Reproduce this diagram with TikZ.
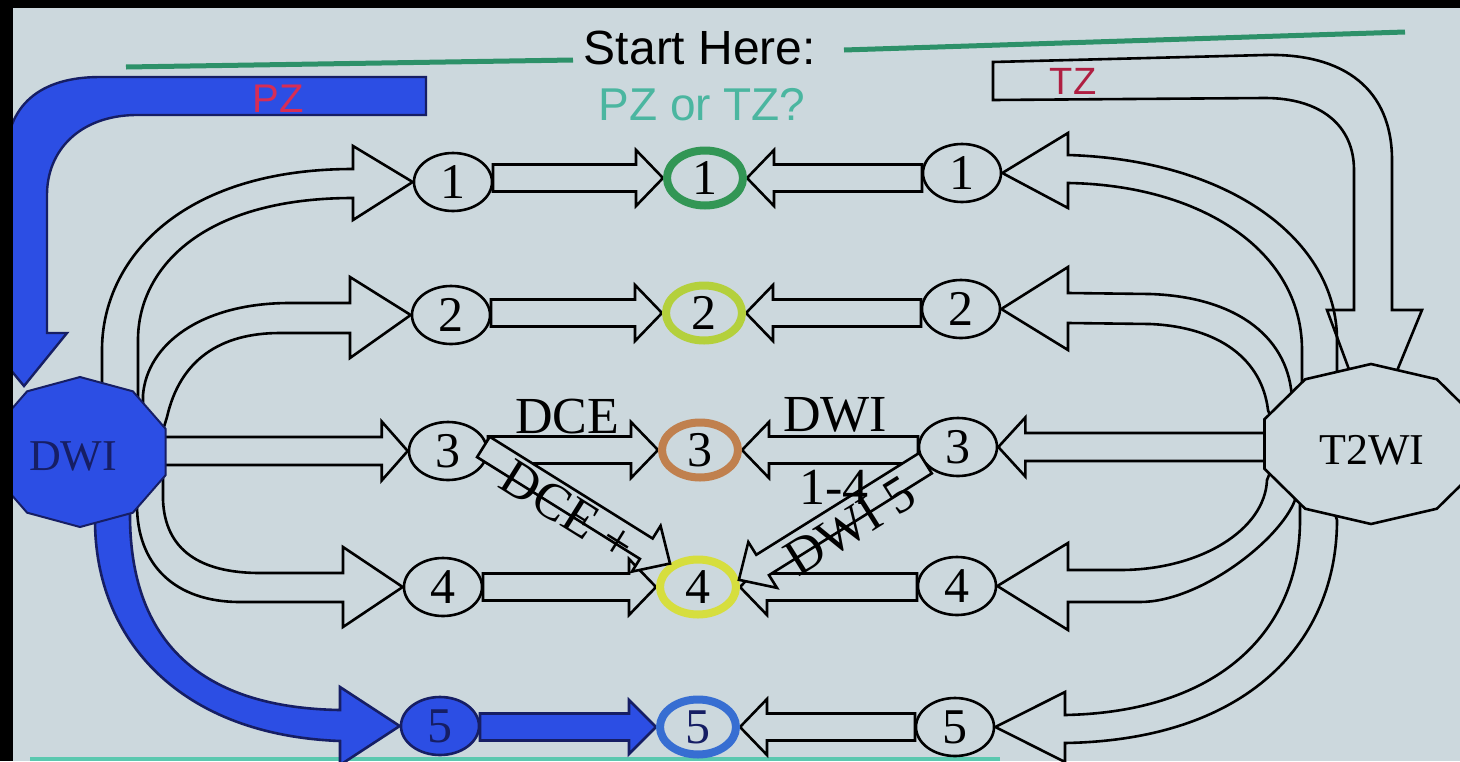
\documentclass[tikz,border=0pt]{standalone}
\usepackage{fontspec}
\setmainfont{Liberation Serif}
\newfontfamily\arialf{Liberation Sans}
\usetikzlibrary{shapes.geometric,calc}
\pgfdeclarelayer{bgl}\pgfdeclarelayer{arrl}\pgfdeclarelayer{front}
\pgfsetlayers{bgl,arrl,main,front}
\definecolor{bg}{RGB}{204,216,221}
\definecolor{dwiblue}{RGB}{44,78,228}
\definecolor{navy}{RGB}{22,30,100}
\definecolor{ringG}{RGB}{50,150,85}
\definecolor{ringYG}{RGB}{180,208,60}
\definecolor{ringBr}{RGB}{192,128,78}
\definecolor{ringY}{RGB}{214,222,62}
\definecolor{ringB}{RGB}{55,110,210}
\definecolor{lineG}{RGB}{45,145,105}
\definecolor{qteal}{RGB}{75,182,160}
\definecolor{pzred}{RGB}{215,45,85}
\definecolor{tzred}{RGB}{175,30,65}
\definecolor{botline}{RGB}{90,200,175}
\newcommand\dgfont{\fontsize{50}{56}\selectfont}
\newcommand\lbfont{\fontsize{52}{58}\selectfont}
\begin{document}
\begin{tikzpicture}[x=1pt,y=-1pt,
  ol/.style={draw=black,line width=2.6pt,line join=miter},
  bstyle/.style={draw=black,line width=2.6pt,fill=bg,line join=miter},
  circ/.style={ellipse,draw=black,line width=2.6pt,fill=bg,minimum width=78pt,minimum height=58pt,inner sep=0pt,outer sep=1.3pt,font=\dgfont},
  ring/.style={ellipse,draw=#1,line width=8pt,fill=bg,minimum width=76pt,minimum height=55pt,inner sep=0pt,outer sep=4pt,font=\dgfont},
  pics/barrow/.style n args={4}{code={\filldraw[bstyle] (-#1,-#4) -- (-#2,-#4) -- (-#2,-#3) -- (0,0) -- (-#2,#3) -- (-#2,#4) -- (-#1,#4) -- cycle;}}
]
\useasboundingbox (0,0) rectangle (1460,761);
\begin{pgfonlayer}{bgl}
  \fill[bg] (0,0) rectangle (1460,761);
  \draw[lineG,line width=5pt] (126,67) -- (573,60);
  \draw[lineG,line width=5pt] (844,50) -- (1405,32);
  \draw[botline,line width=4pt] (30,759) -- (1000,759);
\end{pgfonlayer}

% ---------- nodes (main layer)
\filldraw[fill=dwiblue,draw=navy,line width=2pt] plot[variable=\t,samples at={90,126,...,414}] ({80+90*cos(\t)},{452-75*sin(\t)}) -- cycle;
\node[text=navy,font=\fontsize{44}{50}\selectfont] (dwi) at (73,456) {DWI};
\filldraw[fill=bg,draw=black,line width=2.6pt] plot[variable=\t,samples at={90,126,...,414}] ({1371+112*cos(\t)},{444-80*sin(\t)}) -- cycle;
\node[font=\fontsize{44}{50}\selectfont] (t2wi) at (1372,450) {T2WI};

\node[circ] (L1) at (453,182) {1};
\node[circ] (L2) at (451,315) {2};
\node[circ] (L3) at (448,451) {3};
\node[circ] (L4) at (443,587) {4};
\node[circ,fill=dwiblue,draw=navy,text=navy] (L5) at (440,726) {5};

\node[ring=ringG] (M1) at (705,178) {1};
\node[ring=ringYG] (M2) at (704,313) {2};
\node[ring=ringBr] (M3) at (700,450) {3};
\node[ring=ringY] (M4) at (698,587) {4};
\node[ring=ringB,text=navy] (M5) at (698,727) {5};

\node[circ] (R1) at (962,173) {1};
\node[circ] (R2) at (961,309) {2};
\node[circ] (R3) at (958,447) {3};
\node[circ] (R4) at (957,586) {4};
\node[circ] (R5) at (955,727) {5};

\node[font=\arialf\fontsize{48}{54}\selectfont] (title) at (700,48) {Start Here:};
\node[font=\arialf\fontsize{46}{52}\selectfont,text=qteal] (question) at (702,105) {PZ or TZ?};

% ---------- arrows
\begin{pgfonlayer}{arrl}
  % PZ band
  \filldraw[fill=dwiblue,draw=navy,line width=2.4pt,line join=miter] (426,77) -- (100,77) .. controls (40,77) and (6,105) .. (6,160) -- (6,333) -- (-20,333) -- (24,386) -- (67,333) -- (47,333) -- (47,195) .. controls (47,150) and (80,116) .. (135,115) -- (426,115) -- cycle;
  % TZ band
  \draw[ol] (993,62) -- (1265,55) .. controls (1345,53) and (1392,90) .. (1392,160) -- (1392,310) -- (1422,310) -- (t2wi.north -| 1372,364) -- (1327,310) -- (1354,310) -- (1354,170) .. controls (1354,125) and (1320,98) .. (1265,98) -- (993,100) -- cycle;
  % left curved arrows
  \draw[ol] (102,430) -- (102,350) .. controls (102,260) and (180,169) .. (353,169) -- (353,146) -- (L1.west) -- (353,220) -- (353,198) .. controls (200,198) and (138,270) .. (138,340) -- (138,430) -- cycle;
  \draw[ol] (143,430) -- (143,395) .. controls (147,345) and (200,303) .. (290,303) -- (350,303) -- (350,277) -- (L2.west) -- (350,358) -- (350,333) -- (280,333) .. controls (220,333) and (180,360) .. (167,417) -- (160,440) -- cycle;
  \draw[ol] (163,470) -- (163,500) .. controls (165,550) and (200,573) .. (260,573) -- (343,573) -- (343,547) -- (L4.west) -- (343,627) -- (343,602) -- (240,602) .. controls (175,602) and (137,565) .. (137,505) -- (140,480) -- cycle;
  \filldraw[fill=dwiblue,draw=navy,line width=2.6pt,line join=miter] (95,505) -- (95,520) .. controls (95,640) and (180,735) .. (340,741) -- (340,765) -- (L5.west) -- (340,687) -- (340,710) .. controls (210,708) and (130,650) .. (130,515) -- (130,500) -- cycle;
  % right curved arrows
  \draw[ol] (1337,400) -- (1337,340) .. controls (1337,240) and (1230,160) .. (1068,155) -- (1068,133) -- (R1.east) -- (1068,208) -- (1068,183) .. controls (1200,185) and (1302,250) .. (1302,350) -- (1302,400) -- cycle;
  \draw[ol] (1292,420) -- (1292,400) .. controls (1290,340) and (1240,297) .. (1150,294) -- (1068,293) -- (1068,267) -- (R2.east) -- (1068,350) -- (1068,323) -- (1150,324) .. controls (1220,327) and (1262,360) .. (1268,410) -- (1275,430) -- cycle;
  \draw[ol] (1275,460) -- (1267,480) .. controls (1265,530) and (1200,570) .. (1120,570) -- (1068,570) -- (1068,543) -- (R4.east) -- (1068,630) -- (1068,602) -- (1140,602) .. controls (1200,602) and (1280,540) .. (1295,500) -- (1290,480) -- cycle;
  \draw[ol] (1330,500) -- (1337,520) .. controls (1337,640) and (1250,740) .. (1065,743) -- (1065,762) -- (R5.east) -- (1065,692) -- (1065,715) .. controls (1220,712) and (1300,630) .. (1300,520) -- (1300,500) -- cycle;
  % straight arrows
  \pic at (L3.west) {barrow={250}{26}{29.5}{14}};
  \pic[rotate=180] at (R3.east) {barrow={280}{27}{29.5}{14}};
  \pic at (M1.west) {barrow={170}{27}{28}{13.5}};
  \pic at (M2.west) {barrow={171}{27}{28}{13.5}};
  \pic at (M3.west) {barrow={170}{27}{28}{13.5}};
  \pic at (M4.west) {barrow={173}{27}{28}{13.5}};
  \pic[bstyle/.style={draw=navy,line width=2.6pt,fill=dwiblue,line join=miter}] at (M5.west) {barrow={176}{27}{27}{13.5}};
  \pic[rotate=180] at (M1.east) {barrow={175}{27}{28}{13.5}};
  \pic[rotate=180] at (M2.east) {barrow={175}{27}{28}{13.5}};
  \pic[rotate=180] at (M3.east) {barrow={176}{27}{28}{13.5}};
  \pic[rotate=180] at (M4.east) {barrow={177}{27}{28}{13.5}};
  \pic[rotate=180] at (M5.east) {barrow={175}{27}{28}{13.5}};
\end{pgfonlayer}

\begin{pgfonlayer}{front}
  % diagonal arrows
  \pic[rotate=-32] at (M4.140) {barrow={220}{28}{27}{12}};
  \pic[rotate=212] at (M4.10) {barrow={220}{28}{27}{12}};
  % labels
  \node[font=\lbfont] (dce) at (567,417) {DCE};
  \node[font=\lbfont] (dwitop) at (835,415) {DWI};
  \node[font=\lbfont] (range) at (834,487) {1-4};
  \node[font=\lbfont,rotate=-32] (dceplus) at (568,511) {DCE +};
  \node[font=\lbfont,rotate=32] (dwifive) at (850,526) {DWI 5};
  \node[font=\arialf\fontsize{40}{46}\selectfont,text=pzred] (pz) at (278,99) {PZ};
  \node[font=\arialf\fontsize{38}{44}\selectfont,text=tzred] (tz) at (1073,81) {TZ};
  % photo border
  \fill[black] (0,0) rectangle (13,761);
  \fill[black] (0,0) rectangle (1460,8);
\end{pgfonlayer}
\end{tikzpicture}
\end{document}
